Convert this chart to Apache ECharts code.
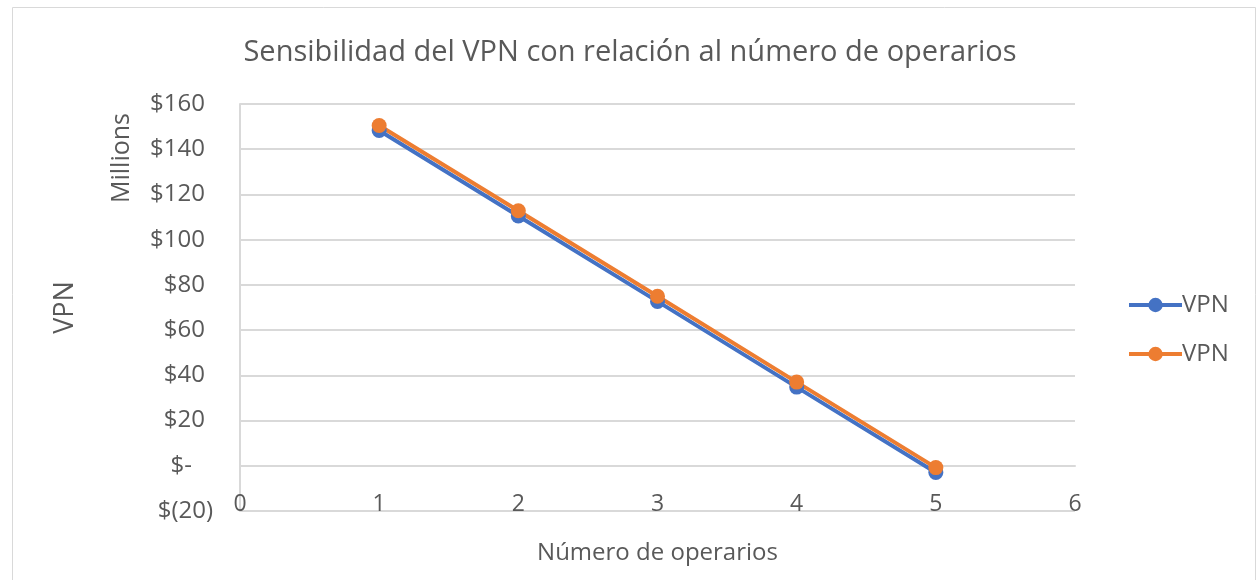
<!DOCTYPE html>
<html><head><meta charset="utf-8">
<script src="https://cdn.jsdelivr.net/npm/echarts@6/dist/echarts.min.js"></script>
<style>html,body{margin:0;padding:0;background:#fff}#c{width:1260px;height:580px}</style>
</head><body><div id="c"></div>
<script>
const operarios = [1, 2, 3, 4, 5];
const vpnBlue = [148.3, 110.5, 72.7, 34.8, -3.0];
const vpnOrange = [150.5, 112.8, 75.0, 37.0, -0.8];
const seriesNames = ['VPN', 'VPN'];
const titleText = 'Sensibilidad del VPN con relación al número de operarios';
const xName = 'Número de operarios';
const yName = 'VPN';
const unitLabel = 'Millions';

const FONT = 'Open Sans';
const GREY = '#595959';
const chart = echarts.init(document.getElementById('c'));
function yfmt(v) {
  if (v === 0) return '{z|$-}';
  if (v < 0) return '{n|$(' + (-v) + ')}';
  return '{p|$' + v + '}';
}
// unique internal ids so the legend shows both entries with the same visible name
const ids = seriesNames.map((n, i) => n + '\u200b'.repeat(i));
chart.setOption({
  animation: false,
  textStyle: { fontFamily: FONT, color: GREY },
  title: {
    text: titleText, left: 'center', top: 33,
    textStyle: { fontFamily: FONT, fontSize: 29, fontWeight: 'normal', color: GREY }
  },
  legend: {
    orient: 'vertical', left: 1122, top: 288, itemWidth: 53, itemHeight: 18, itemGap: 25,
    data: ids,
    lineStyle: { width: 4 },
    textStyle: { fontFamily: FONT, fontSize: 24, color: GREY, padding: [0, 0, 0, -5] }
  },
  grid: { left: 240, right: 185, top: 104, bottom: 69 },
  xAxis: {
    type: 'value', min: 0, max: 6, interval: 1,
    name: xName, nameLocation: 'middle', nameGap: 30,
    nameTextStyle: { fontFamily: FONT, fontSize: 24, color: GREY },
    axisLine: { show: true, lineStyle: { color: '#d9d9d9', width: 2 } },
    axisTick: { show: false },
    splitLine: { show: false },
    axisLabel: { margin: -18, fontFamily: FONT, fontSize: 23, color: GREY }
  },
  yAxis: {
    type: 'value', min: -20, max: 160, interval: 20,
    name: yName, nameLocation: 'middle', nameGap: 161,
    nameTextStyle: { fontFamily: FONT, fontSize: 27, color: GREY },
    axisLine: { show: true, lineStyle: { color: '#d9d9d9', width: 2 } },
    axisTick: { show: false },
    splitLine: { show: true, lineStyle: { color: '#d9d9d9', width: 2 } },
    axisLabel: {
      margin: 27, formatter: yfmt,
      rich: {
        p: { fontFamily: FONT, fontSize: 24, color: GREY, padding: [0, 8, 0, 0] },
        n: { fontFamily: FONT, fontSize: 24, color: GREY },
        z: { fontFamily: FONT, fontSize: 24, color: GREY, padding: [0, 21, 0, 0] }
      }
    }
  },
  graphic: [
    { type: 'rect', shape: { x: 12.5, y: 7.5, width: 1243, height: 580 }, style: { fill: 'none', stroke: '#d9d9d9', lineWidth: 1 }, silent: true },
    { type: 'text', x: 122, y: 158, rotation: Math.PI / 2, style: { text: unitLabel, fontFamily: FONT, fontSize: 25, fill: GREY, align: 'center', verticalAlign: 'middle' } }
  ],
  series: [
    { name: ids[0], type: 'line', data: operarios.map((x, i) => [x, vpnBlue[i]]),
      color: '#4472C4', symbol: 'circle', symbolSize: 15, lineStyle: { width: 4 } },
    { name: ids[1], type: 'line', data: operarios.map((x, i) => [x, vpnOrange[i]]),
      color: '#ED7D31', symbol: 'circle', symbolSize: 15, lineStyle: { width: 4 } }
  ]
});
</script></body></html>
